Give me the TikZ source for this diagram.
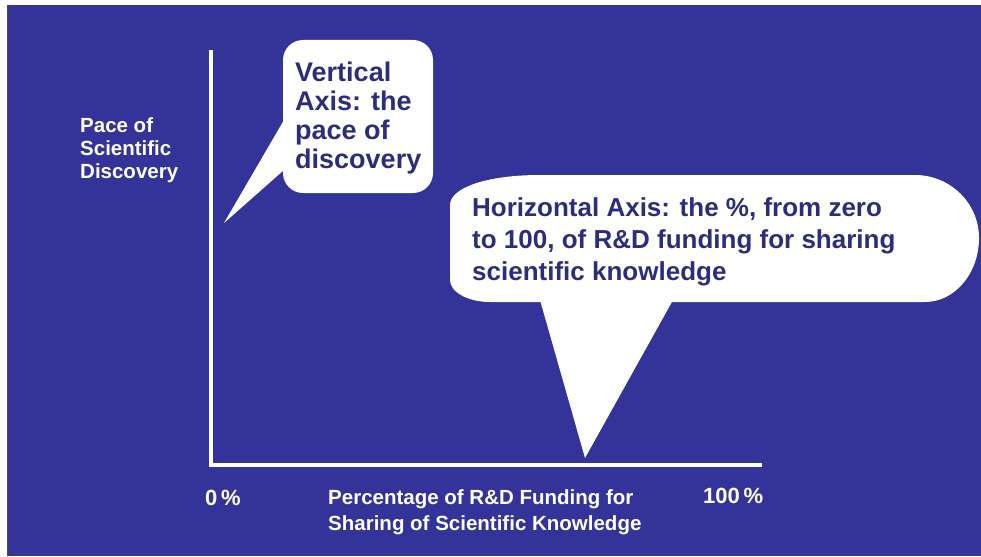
\documentclass[tikz,border=0pt]{standalone}
\usepackage{fontspec}
\setmainfont{Liberation Sans}
\usetikzlibrary{positioning}
\definecolor{slideblue}{RGB}{51,51,153}
\definecolor{inkblue}{RGB}{45,45,125}

\begin{document}
\begin{tikzpicture}[x=1pt,y=-1pt,
    axis/.style={
% The stroke:
draw=white,
% The width:
line width=4pt,
},
    axislabel/.style={
% The anchor:
anchor=north west, inner sep=0pt,
% The text:
text=white, align=left,
font=\bfseries\fontsize{20.5}{23}\selectfont,
},
    balloon/.style={
% The fill:
fill=white, draw=none,
},
    balloontext/.style={
% The anchor:
anchor=north west, inner sep=0pt,
% The text:
text=inkblue, align=left,
},
]
  \useasboundingbox (0,0) rectangle (981,556);
  \fill[white] (0,0) rectangle (981,556);
  \fill[slideblue] (7,5) rectangle (981,556);
  \draw[black!70, line width=1pt] (7,5) -- (7,556);

  % axes
  \coordinate (ytop) at (211,50);
  \coordinate (origin) at (211,465);
  \coordinate (xend) at (762,465);
  \draw[axis] (ytop) -- (origin) -- (xend);

  % small balloon
  \fill[balloon, rounded corners=20pt] (283,40) rectangle (433,193);
  \fill[balloon] (284,120) -- (224,223) -- (284,170) -- cycle;

  % large balloon
  \fill[balloon] (540,175) -- (915,175)
    .. controls (950,175) and (979,203) .. (979,238)
    .. controls (979,273) and (955,302) .. (925,302)
    -- (490,302)
    .. controls (468,302) and (450,292) .. (450,280)
    -- (450,205)
    .. controls (450,188) and (486,175) .. (540,175) -- cycle;
  \fill[balloon] (540,300) -- (585,458) -- (673,300) -- cycle;

  \node[axislabel] (pace) at (80,117) {Pace of\\Scientific\\Discovery};
  \node[balloontext, font=\bfseries\fontsize{27}{29}\selectfont]
    (vtext) at (295,62) {Vertical\\Axis: the\\pace of\\discovery};
  \node[balloontext, font=\bfseries\fontsize{26}{32}\selectfont]
    (htext) at (472,197) {Horizontal Axis: the \%, from zero\\to 100, of R\&D funding for sharing\\scientific knowledge};

  \node[axislabel, font=\bfseries\fontsize{22}{26}\selectfont]
    (zero) at (205,490) {0\,\%};
  \node[axislabel, font=\bfseries\fontsize{20.5}{26}\selectfont]
    (funding) at (328,489) {Percentage of R\&D Funding for\\Sharing of Scientific Knowledge};
  \node[axislabel, font=\bfseries\fontsize{22}{26}\selectfont]
    (hundred) at (703,488) {100\,\%};
\end{tikzpicture}
\end{document}
